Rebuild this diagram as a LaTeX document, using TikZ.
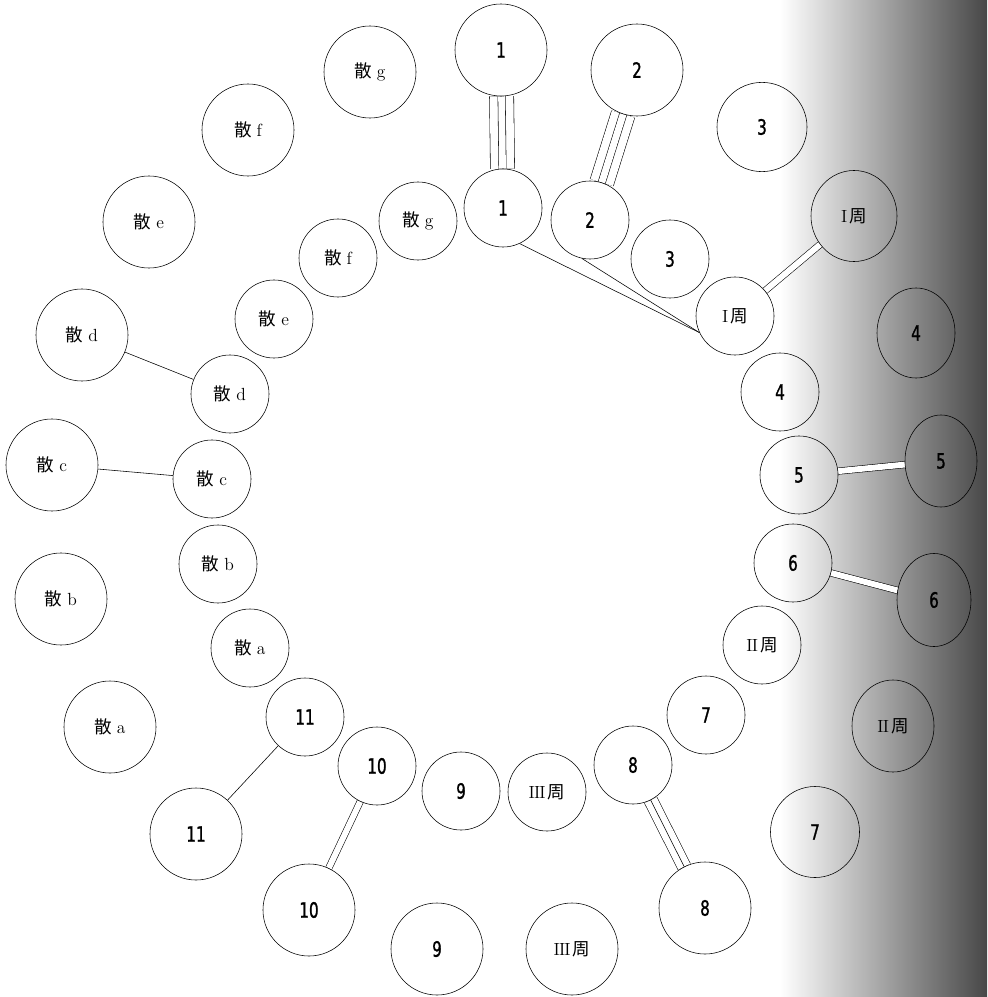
\documentclass[tikz,border=0pt]{standalone}
\usepackage{fontspec}
\newfontfamily\cjk{Noto Sans CJK SC}
\newfontfamily\numfont{DejaVu Sans}[FakeStretch=0.72, FakeBold=1.2]
\usetikzlibrary{shapes.geometric}
\pgfdeclarelayer{shadelayer}
\pgfdeclarelayer{connlayer}
\pgfsetlayers{shadelayer,connlayer,main}
\newcommand\sanlbl[1]{{\cjk 散}\hspace{0.28em}#1}
\newcommand\zhoulbl[1]{#1\hspace{0.12em}{\cjk 周}}
\begin{document}
\begin{tikzpicture}[x=0.025cm, y=-0.025cm, line width=1.15pt,
  inr/.style={circle, draw, minimum size=1.95cm, inner sep=0pt},
  otr/.style={circle, draw, minimum size=2.3cm, inner sep=0pt},
  otre/.style 2 args={ellipse, draw, minimum width=#1, minimum height=#2, inner sep=0pt},
  num/.style={font=\numfont\fontsize{15}{15}\selectfont},
  lbl/.style={font=\fontsize{12.5}{12.5}\selectfont},
  dbl/.style={double, double distance=4.2pt},
  trp/.style={double, double distance=9.4pt},
  quadout/.style={double, double distance=16.8pt},
  quadin/.style={double, double distance=4.85pt}]
\useasboundingbox (0,0) rectangle (987,997);
\begin{pgfonlayer}{shadelayer}
  \shade[left color=white, right color=black!72] (780,0) rectangle (987,997);
\end{pgfonlayer}
% inner ring
\node[inr,num] (i1)   at (503,208) {1};
\node[inr,num] (i2)   at (590,220) {2};
\node[inr,num] (i3)   at (670,259) {3};
\node[inr,lbl] (iI)   at (735,316) {\zhoulbl{I}};
\node[inr,num] (i4)   at (780,392) {4};
\node[inr,num] (i5)   at (799,475) {5};
\node[inr,num] (i6)   at (793,563) {6};
\node[inr,lbl] (iII)  at (762,645) {\zhoulbl{I\kern-0.6ptI}};
\node[inr,num] (i7)   at (706,715) {7};
\node[inr,num] (i8)   at (633,765) {8};
\node[inr,lbl] (iIII) at (547,792) {\zhoulbl{I\kern-0.6ptI\kern-0.6ptI}};
\node[inr,num] (i9)   at (461,791) {9};
\node[inr,num] (i10)  at (377,766) {10};
\node[inr,num] (i11)  at (305,717) {11};
\node[inr,lbl] (isa)  at (250,648) {\sanlbl{a}};
\node[inr,lbl] (isb)  at (218,564) {\sanlbl{b}};
\node[inr,lbl] (isc)  at (212,479) {\sanlbl{c}};
\node[inr,lbl] (isd)  at (230,394) {\sanlbl{d}};
\node[inr,lbl] (ise)  at (274,319) {\sanlbl{e}};
\node[inr,lbl] (isf)  at (338,258) {\sanlbl{f}};
\node[inr,lbl] (isg)  at (418,221) {\sanlbl{g}};
% outer ring
\node[otr,num] (o1)   at (501,50)  {1};
\node[otr,num] (o2)   at (637,70)  {2};
\node[otre={2.25cm}{2.23cm},num] (o3) at (762,127) {3};
\node[otre={2.15cm}{2.275cm},lbl] (oI) at (854,216) {\zhoulbl{I}};
\node[otre={1.95cm}{2.25cm},num] (o4) at (916,333) {4};
\node[otre={1.8cm}{2.3cm},num] (o5) at (941,461) {5};
\node[otre={1.85cm}{2.325cm},num] (o6) at (934,600) {6};
\node[otre={2.05cm}{2.3cm},lbl] (oII) at (893,726) {\zhoulbl{I\kern-0.6ptI}};
\node[otre={2.225cm}{2.275cm},num] (o7) at (815,832) {7};
\node[otr,num] (o8)   at (705,908) {8};
\node[otr,lbl] (oIII) at (572,949) {\zhoulbl{I\kern-0.6ptI\kern-0.6ptI}};
\node[otr,num] (o9)   at (437,949) {9};
\node[otr,num] (o10)  at (309,910) {10};
\node[otr,num] (o11)  at (196,834) {11};
\node[otr,lbl] (osa)  at (110,727) {\sanlbl{a}};
\node[otr,lbl] (osb)  at (61,599)  {\sanlbl{b}};
\node[otr,lbl] (osc)  at (52,465)  {\sanlbl{c}};
\node[otr,lbl] (osd)  at (82,335)  {\sanlbl{d}};
\node[otr,lbl] (ose)  at (149,222) {\sanlbl{e}};
\node[otr,lbl] (osf)  at (248,130) {\sanlbl{f}};
\node[otr,lbl] (osg)  at (370,72)  {\sanlbl{g}};
% connectors
\begin{pgfonlayer}{connlayer}
  \draw[quadout] (o1) -- (i1);  \draw[quadin] (o1) -- (i1);
  \draw[quadout] (o2) -- (i2);  \draw[quadin] (o2) -- (i2);
  \draw[trp] (i8) -- (o8);  \draw (i8) -- (o8);
  \draw[dbl] (oI) -- (iI);
  \draw[dbl] (i5) -- (o5);
  \draw[dbl] (i6) -- (o6);
  \draw[dbl] (i10) -- (o10);
  \draw (i11) -- (o11);
  \draw (isc) -- (osc);
  \draw (isd) -- (osd);
  \draw (i1.295) -- (iI.205);
  \draw (i2.258) -- (iI.205);
\end{pgfonlayer}
\end{tikzpicture}
\end{document}
